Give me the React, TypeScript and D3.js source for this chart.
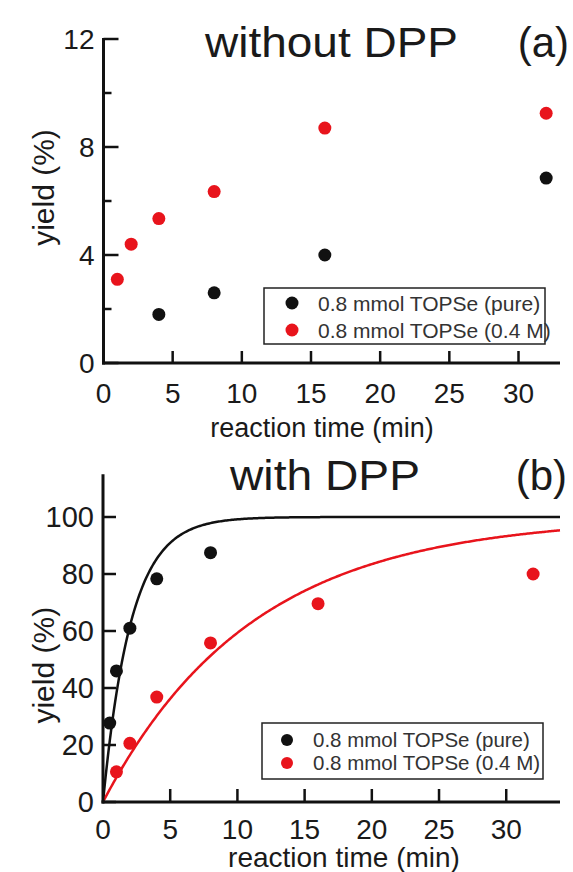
import React from "react";
import * as d3 from "d3";

// ---------- data ----------
const timesA_black = [4, 8, 16, 32];
const yieldA_black = [1.8, 2.6, 4.0, 6.85];
const timesA_red = [1, 2, 4, 8, 16, 32];
const yieldA_red = [3.1, 4.4, 5.35, 6.35, 8.7, 9.25];

const timesB_black = [0.5, 1, 2, 4, 8];
const yieldB_black = [27.7, 46, 61, 78.3, 87.5];
const timesB_red = [1, 2, 4, 8, 16, 32];
const yieldB_red = [10.6, 20.6, 36.8, 55.8, 69.6, 80];

// first-order fit parameters (yield = A (1 - exp(-k t)))
const fitBlack = { A: 100, k: 0.48 };
const fitRed = { A: 100, k: 0.09 };

const xTicks = [5, 10, 15, 20, 25, 30];
const xTickLabels = [0, 5, 10, 15, 20, 25, 30];
const yTicksA = [0, 4, 8, 12];
const yMinorA = [2, 6, 10];
const yTicksB = [0, 20, 40, 60, 80, 100];
const legendLabels = ["0.8 mmol TOPSe (pure)", "0.8 mmol TOPSe (0.4 M)"];

const BLACK = "#111111";
const RED = "#e8141c";
const FONT = "'Liberation Sans', Arial, Helvetica, sans-serif";

export default function App() {
  const xA = d3.scaleLinear().domain([0, 33]).range([103.5, 560]);
  const yA = d3.scaleLinear().domain([0, 12]).range([363, 39]);
  const xB = d3.scaleLinear().domain([0, 34]).range([103, 560]);
  const yB = d3.scaleLinear().domain([0, 115]).range([802, 474.25]);

  const fitTimes = d3.range(0, 34.001, 0.1);
  const curve = (p: { A: number; k: number }) =>
    d3
      .line<number>()
      .x((t) => xB(t))
      .y((t) => yB(p.A * (1 - Math.exp(-p.k * t))))(fitTimes) || "";

  return (
    <svg
      width={573}
      height={872}
      style={{ position: "absolute", left: 0, top: 0, background: "#fff" }}
      fontFamily={FONT}
    >
      {/* ===== Panel (a) ===== */}
      <text x={331.5} y={57} fontSize={42} textAnchor="middle" fill="#1a1a1a" textLength={253} lengthAdjust="spacingAndGlyphs">
        without DPP
      </text>
      <text x={569} y={57} fontSize={42} textAnchor="end" fill="#1a1a1a">
        (a)
      </text>

      <line x1={xA(0)} x2={xA(0)} y1={yA(0) + 1.5} y2={yA(12) - 1} stroke={BLACK} strokeWidth={3} />
      <line x1={xA(0) - 1.5} x2={xA(33)} y1={yA(0)} y2={yA(0)} stroke={BLACK} strokeWidth={3} />
      {yTicksA.map((v) => (
        <g key={"yta" + v}>
          <line x1={xA(0)} x2={xA(0) + 15} y1={yA(v)} y2={yA(v)} stroke={BLACK} strokeWidth={2.5} />
          <text x={xA(0) - 9} y={yA(v)} dy="0.36em" fontSize={28} textAnchor="end" fill="#1a1a1a">
            {v}
          </text>
        </g>
      ))}
      {yMinorA.map((v) => (
        <line key={"ymn" + v} x1={xA(0)} x2={xA(0) + 8} y1={yA(v)} y2={yA(v)} stroke={BLACK} strokeWidth={2.5} />
      ))}
      {xTicks.map((v) => (
        <line key={"xta" + v} x1={xA(v)} x2={xA(v)} y1={yA(0)} y2={yA(0) - 12} stroke={BLACK} strokeWidth={2.5} />
      ))}
      {xTickLabels.map((v) => (
        <text key={"xla" + v} x={xA(v)} y={403} fontSize={28} textAnchor="middle" fill="#1a1a1a">
          {v}
        </text>
      ))}
      <text x={322} y={437} fontSize={27} textAnchor="middle" fill="#1a1a1a">
        reaction time (min)
      </text>
      <text
        transform={`translate(54, ${yA(6.5)}) rotate(-90)`}
        fontSize={30}
        textAnchor="middle"
        fill="#1a1a1a"
      >
        yield (%)
      </text>

      {timesA_black.map((t, i) => (
        <circle key={"ab" + i} cx={xA(t)} cy={yA(yieldA_black[i])} r={6.5} fill={BLACK} />
      ))}
      {timesA_red.map((t, i) => (
        <circle key={"ar" + i} cx={xA(t)} cy={yA(yieldA_red[i])} r={6.5} fill={RED} />
      ))}

      <rect x={264} y={288} width={281} height={56} fill="#fff" stroke="#222" strokeWidth={1.5} />
      {legendLabels.map((l, i) => (
        <g key={"lga" + i}>
          <circle cx={292} cy={303 + i * 27} r={6.5} fill={i === 0 ? BLACK : RED} />
          <text x={318} y={303 + i * 27} dy="0.36em" fontSize={21} fill="#333">
            {l}
          </text>
        </g>
      ))}

      {/* ===== Panel (b) ===== */}
      <text x={325} y={490} fontSize={42} textAnchor="middle" fill="#1a1a1a" textLength={190} lengthAdjust="spacingAndGlyphs">
        with DPP
      </text>
      <text x={567} y={490} fontSize={42} textAnchor="end" fill="#1a1a1a">
        (b)
      </text>

      <path d={curve(fitBlack)} fill="none" stroke={BLACK} strokeWidth={2.5} />
      <path d={curve(fitRed)} fill="none" stroke={RED} strokeWidth={2.5} />

      <line x1={xB(0)} x2={xB(0)} y1={yB(0) + 1.5} y2={yB(115)} stroke={BLACK} strokeWidth={3} />
      <line x1={xB(0) - 1.5} x2={xB(34)} y1={yB(0)} y2={yB(0)} stroke={BLACK} strokeWidth={3} />
      {yTicksB.map((v) => (
        <g key={"ytb" + v}>
          <line x1={xB(0)} x2={xB(0) + 13} y1={yB(v)} y2={yB(v)} stroke={BLACK} strokeWidth={2.5} />
          <text x={xB(0) - 9} y={yB(v)} dy="0.36em" fontSize={29} textAnchor="end" fill="#1a1a1a">
            {v}
          </text>
        </g>
      ))}
      {xTicks.map((v) => (
        <line key={"xtb" + v} x1={xB(v)} x2={xB(v)} y1={yB(0)} y2={yB(0) - 13} stroke={BLACK} strokeWidth={2.5} />
      ))}
      {xTickLabels.map((v) => (
        <text key={"xlb" + v} x={xB(v)} y={839} fontSize={28} textAnchor="middle" fill="#1a1a1a">
          {v}
        </text>
      ))}
      <text x={344} y={867} fontSize={28} textAnchor="middle" fill="#1a1a1a">
        reaction time (min)
      </text>
      <text
        transform={`translate(54, ${yB(48)}) rotate(-90)`}
        fontSize={30}
        textAnchor="middle"
        fill="#1a1a1a"
      >
        yield (%)
      </text>

      {timesB_black.map((t, i) => (
        <circle key={"bb" + i} cx={xB(t)} cy={yB(yieldB_black[i])} r={6.5} fill={BLACK} />
      ))}
      {timesB_red.map((t, i) => (
        <circle key={"br" + i} cx={xB(t)} cy={yB(yieldB_red[i])} r={6.5} fill={RED} />
      ))}

      <rect x={262} y={723} width={281} height={56} fill="#fff" stroke="#222" strokeWidth={1.5} />
      {legendLabels.map((l, i) => (
        <g key={"lgb" + i}>
          <circle cx={287} cy={740 + i * 23} r={6} fill={i === 0 ? BLACK : RED} />
          <text x={313} y={740 + i * 23} dy="0.36em" fontSize={20.5} fill="#333">
            {l}
          </text>
        </g>
      ))}
    </svg>
  );
}
